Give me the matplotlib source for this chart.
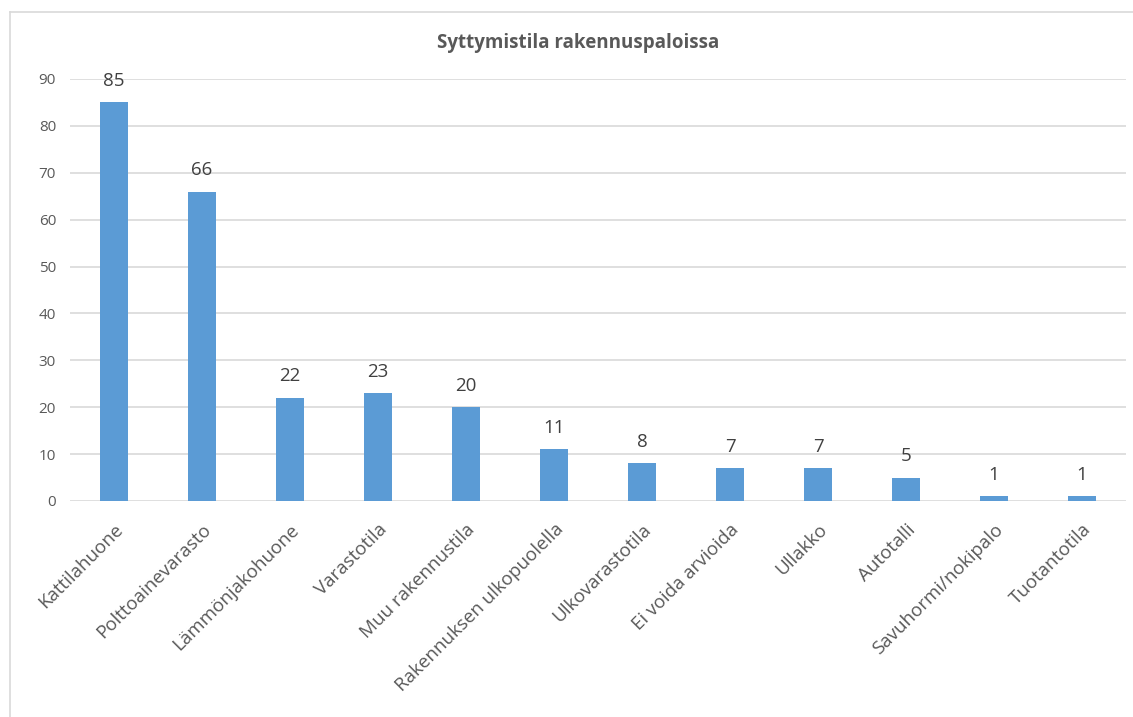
import matplotlib
matplotlib.use("Agg")
import matplotlib.pyplot as plt
from matplotlib.lines import Line2D

categories = ["Kattilahuone", "Polttoainevarasto", "Lämmönjakohuone", "Varastotila",
              "Muu rakennustila", "Rakennuksen ulkopuolella", "Ulkovarastotila",
              "Ei voida arvioida", "Ullakko", "Autotalli", "Savuhormi/nokipalo", "Tuotantotila"]
values = [85, 66, 22, 23, 20, 11, 8, 7, 7, 5, 1, 1]
yticks = [0, 10, 20, 30, 40, 50, 60, 70, 80, 90]
title = "Syttymistila rakennuspaloissa"

plt.rcParams['font.family'] = ['Open Sans', 'DejaVu Sans']
W, H = 1133, 717
fig = plt.figure(figsize=(W/100, H/100), dpi=100)
ax = fig.add_axes([70/W, 1-501/H, (1126-70)/W, (501-79)/H])

x = list(range(len(categories)))
bars = ax.bar(x, values, width=0.32, color="#5B9BD5", zorder=3)
ax.set_xlim(-0.5, len(categories)-0.5)
ax.set_ylim(0, 90)
ax.set_yticks(yticks)
ax.yaxis.grid(True, color="#D9D9D9", linewidth=1.2, zorder=0)
for s in ax.spines.values():
    s.set_visible(False)
ax.tick_params(axis='both', length=0, colors="#595959")
ax.tick_params(axis='y', labelsize=11, pad=10)
ax.set_xticks(x)
ax.set_xticklabels(categories, rotation=45, ha='right', rotation_mode='anchor',
                   fontsize=13.5, color="#595959")
ax.tick_params(axis='x', pad=14)

for xi, v in zip(x, values):
    ax.annotate(str(v), (xi, v), xytext=(0, 9), textcoords='offset points',
                ha='center', va='bottom', fontsize=13.5, color="#404040")

fig.text(578/W, 1-43/H, title, ha='center', va='center', fontsize=13.5,
         fontweight='bold', color="#595959")

# chart frame
fig.add_artist(Line2D([10/W, 10/W], [0, 1-12/H], transform=fig.transFigure,
                      color="#D9D9D9", linewidth=1.2))
fig.add_artist(Line2D([10/W, 1], [1-12/H, 1-12/H], transform=fig.transFigure,
                      color="#D9D9D9", linewidth=1.2))

fig.savefig("out.png", dpi=100, facecolor="white")
